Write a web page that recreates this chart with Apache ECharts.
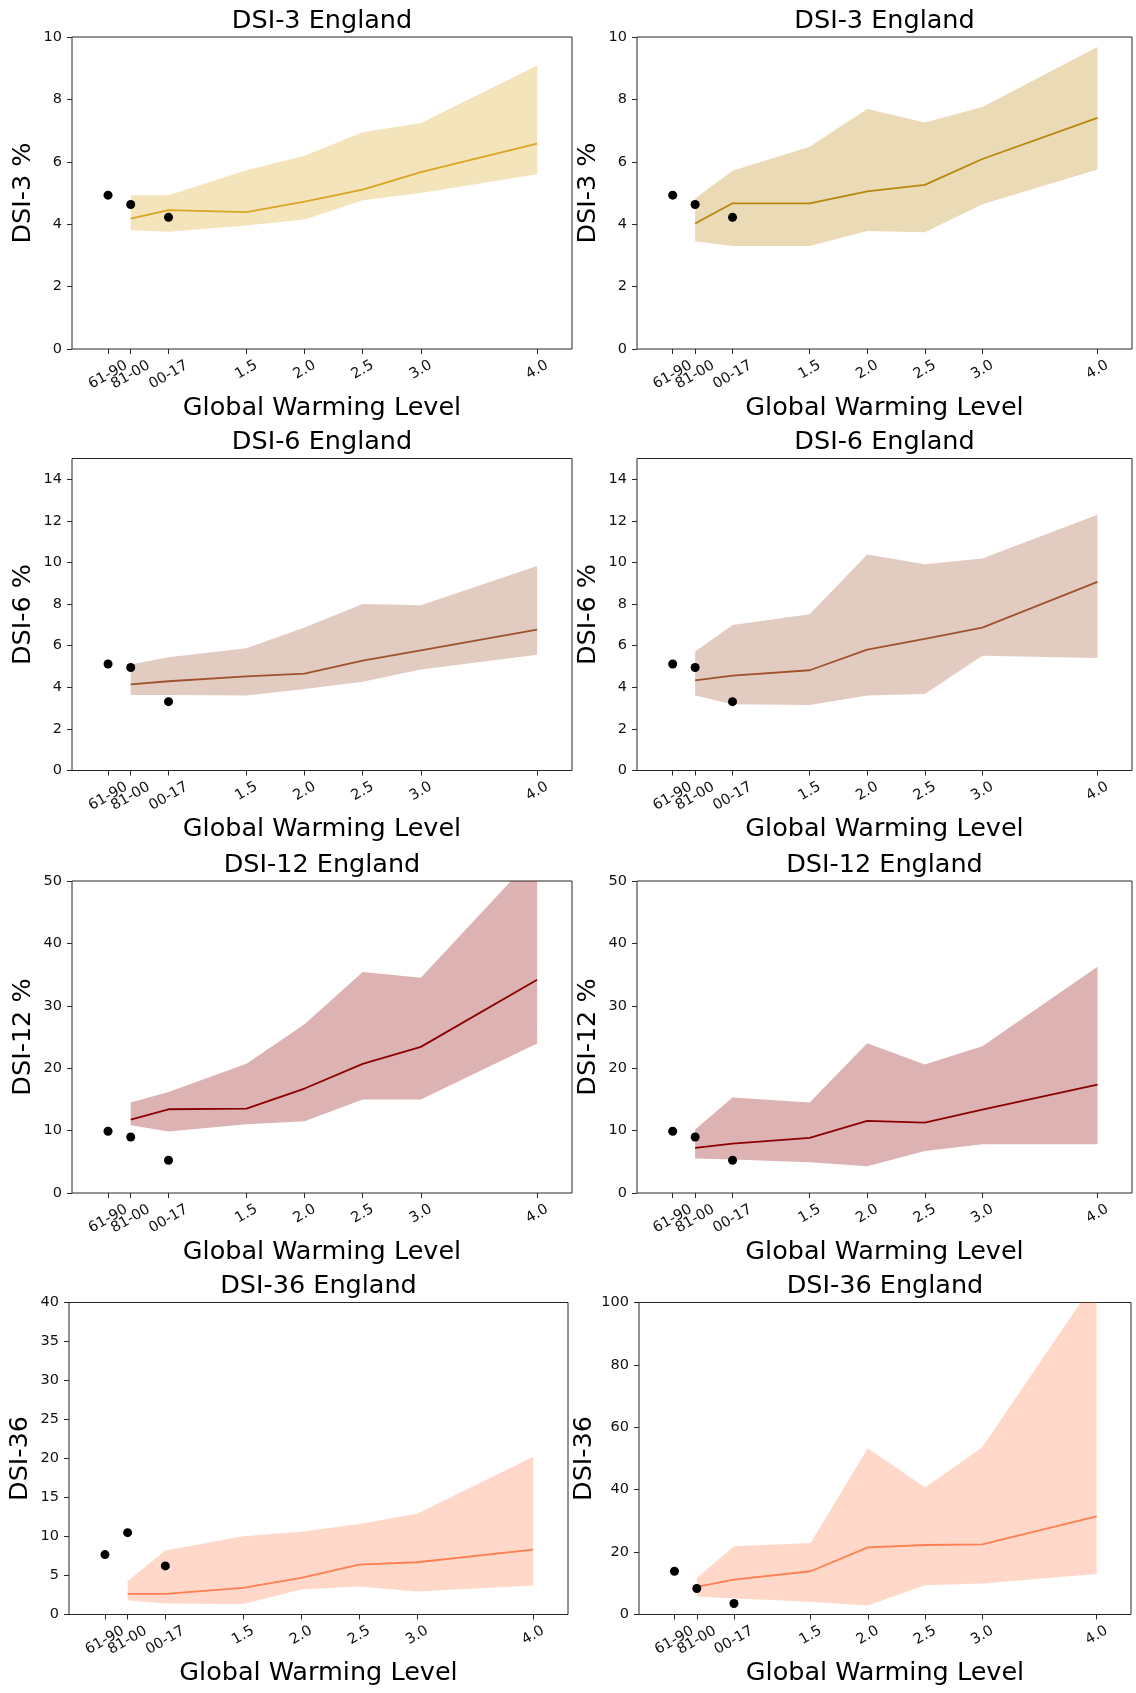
<!DOCTYPE html>
<html>
<head>
<meta charset="utf-8">
<script src="https://cdn.jsdelivr.net/npm/echarts@6/dist/echarts.min.js"></script>
<style>
  html, body { margin: 0; padding: 0; background: #ffffff; }
  #chart { width: 1136px; height: 1693px; }
</style>
</head>
<body>
<div id="chart"></div>
<script>
// x positions (global warming level) of the ticks; the three baseline periods sit at their own GWL
const gwlTicks = [0.31, 0.505, 0.83, 1.5, 2.0, 2.5, 3.0, 4.0];
const gwlTickLabels = ['61-90', '81-00', '00-17', '1.5', '2.0', '2.5', '3.0', '4.0'];
const obsX = [0.31, 0.505, 0.83];
const modelX = [0.505, 0.83, 1.5, 2.0, 2.5, 3.0, 4.0];

// y tick values
const ticksDsi3 = [0, 2, 4, 6, 8, 10];
const ticksDsi6 = [0, 2, 4, 6, 8, 10, 12, 14];
const ticksDsi12 = [0, 10, 20, 30, 40, 50];
const ticksDsi36a = [0, 5, 10, 15, 20, 25, 30, 35, 40];
const ticksDsi36b = [0, 20, 40, 60, 80, 100];

// DSI-3, left ensemble
const dsi3aObs = [4.93, 4.63, 4.22];
const dsi3aMedian = [4.18, 4.45, 4.39, 4.72, 5.11, 5.67, 6.58];
const dsi3aLow = [3.81, 3.76, 3.96, 4.15, 4.77, 5.00, 5.60];
const dsi3aHigh = [4.93, 4.93, 5.73, 6.19, 6.95, 7.24, 9.09];
// DSI-3, right ensemble
const dsi3bObs = [4.93, 4.63, 4.22];
const dsi3bMedian = [4.02, 4.67, 4.67, 5.05, 5.26, 6.09, 7.41];
const dsi3bLow = [3.45, 3.30, 3.30, 3.78, 3.74, 4.64, 5.75];
const dsi3bHigh = [4.82, 5.71, 6.48, 7.69, 7.26, 7.76, 9.68];
// DSI-6, left
const dsi6aObs = [5.12, 4.95, 3.31];
const dsi6aMedian = [4.14, 4.29, 4.53, 4.66, 5.28, 5.78, 6.77];
const dsi6aLow = [3.63, 3.63, 3.61, 3.92, 4.27, 4.85, 5.57];
const dsi6aHigh = [5.10, 5.45, 5.88, 6.87, 8.01, 7.95, 9.83];
// DSI-6, right
const dsi6bObs = [5.12, 4.95, 3.31];
const dsi6bMedian = [4.33, 4.56, 4.82, 5.81, 6.33, 6.87, 9.07];
const dsi6bLow = [3.60, 3.19, 3.15, 3.61, 3.68, 5.52, 5.41];
const dsi6bHigh = [5.72, 7.00, 7.51, 10.39, 9.91, 10.19, 12.30];
// DSI-12, left
const dsi12aObs = [9.89, 8.98, 5.24];
const dsi12aMedian = [11.76, 13.42, 13.53, 16.74, 20.70, 23.42, 34.17];
const dsi12aLow = [10.86, 9.84, 11.02, 11.50, 14.97, 14.97, 23.96];
const dsi12aHigh = [14.49, 16.20, 20.70, 27.06, 35.40, 34.49, 54.5];
// DSI-12, right
const dsi12bObs = [9.89, 8.98, 5.24];
const dsi12bMedian = [7.22, 7.91, 8.82, 11.55, 11.28, 13.37, 17.38];
const dsi12bLow = [5.51, 5.35, 4.92, 4.28, 6.74, 7.81, 7.81];
const dsi12bHigh = [10.16, 15.29, 14.49, 24.01, 20.59, 23.53, 36.26];
// DSI-36, left
const dsi36aObs = [7.68, 10.49, 6.23];
const dsi36aMedian = [2.64, 2.64, 3.41, 4.69, 6.40, 6.70, 8.32];
const dsi36aLow = [1.83, 1.41, 1.36, 3.20, 3.58, 2.94, 3.71];
const dsi36aHigh = [4.26, 8.19, 10.02, 10.62, 11.60, 12.92, 20.21];
// DSI-36, right
const dsi36bObs = [13.86, 8.32, 3.52];
const dsi36bMedian = [8.85, 11.19, 13.86, 21.54, 22.28, 22.49, 31.45];
const dsi36bLow = [5.76, 5.12, 4.05, 2.88, 9.38, 9.91, 13.0];
const dsi36bHigh = [11.73, 21.86, 22.92, 53.3, 40.72, 53.62, 107.6];

const FONT = 'DejaVu Sans';

const panels = [
  { title: 'DSI-3 England', yName: 'DSI-3 %', yMax: 10, yTicks: ticksDsi3,
    obs: dsi3aObs, median: dsi3aMedian, low: dsi3aLow, high: dsi3aHigh,
    line: '#DAA520', band: 'rgba(218,165,32,0.3)' },
  { title: 'DSI-3 England', yName: 'DSI-3 %', yMax: 10, yTicks: ticksDsi3,
    obs: dsi3bObs, median: dsi3bMedian, low: dsi3bLow, high: dsi3bHigh,
    line: '#B8860B', band: 'rgba(184,134,11,0.3)' },
  { title: 'DSI-6 England', yName: 'DSI-6 %', yMax: 15, yTicks: ticksDsi6,
    obs: dsi6aObs, median: dsi6aMedian, low: dsi6aLow, high: dsi6aHigh,
    line: '#A0522D', band: 'rgba(160,82,45,0.3)' },
  { title: 'DSI-6 England', yName: 'DSI-6 %', yMax: 15, yTicks: ticksDsi6,
    obs: dsi6bObs, median: dsi6bMedian, low: dsi6bLow, high: dsi6bHigh,
    line: '#A0522D', band: 'rgba(160,82,45,0.3)' },
  { title: 'DSI-12 England', yName: 'DSI-12 %', yMax: 50, yTicks: ticksDsi12,
    obs: dsi12aObs, median: dsi12aMedian, low: dsi12aLow, high: dsi12aHigh,
    line: '#8B0000', band: 'rgba(139,0,0,0.3)' },
  { title: 'DSI-12 England', yName: 'DSI-12 %', yMax: 50, yTicks: ticksDsi12,
    obs: dsi12bObs, median: dsi12bMedian, low: dsi12bLow, high: dsi12bHigh,
    line: '#8B0000', band: 'rgba(139,0,0,0.3)' },
  { title: 'DSI-36 England', yName: 'DSI-36', yMax: 40, yTicks: ticksDsi36a,
    obs: dsi36aObs, median: dsi36aMedian, low: dsi36aLow, high: dsi36aHigh,
    line: '#FF7F50', band: 'rgba(255,127,80,0.3)' },
  { title: 'DSI-36 England', yName: 'DSI-36', yMax: 100, yTicks: ticksDsi36b,
    obs: dsi36bObs, median: dsi36bMedian, low: dsi36bLow, high: dsi36bHigh,
    line: '#FF7F50', band: 'rgba(255,127,80,0.3)' }
];

// plot boxes: two columns, four rows
const rowTop = [37, 458.5, 881, 1302.5];
const boxH = 312;
function box(i) {
  const row = Math.floor(i / 2), col = i % 2;
  if (row < 3) return col === 0 ? { left: 72, width: 500, top: rowTop[row] } : { left: 637, width: 495, top: rowTop[row] };
  return col === 0 ? { left: 69, width: 499, top: rowTop[row] } : { left: 639, width: 492, top: rowTop[row] };
}

function gwlLabel(v) {
  let best = 0;
  gwlTicks.forEach((t, k) => { if (Math.abs(t - v) < Math.abs(gwlTicks[best] - v)) best = k; });
  return gwlTickLabels[best];
}

const grids = [], xAxes = [], yAxes = [], series = [], titles = [];
const AX_PER_GRID = 3;

panels.forEach((p, i) => {
  const b = box(i);
  grids.push({ left: b.left, top: b.top, width: b.width, height: boxH, show: true,
    borderColor: '#262626', borderWidth: 1, backgroundColor: 'transparent' });

  titles.push({ text: p.title, left: b.left + b.width / 2, top: b.top - 29, textAlign: 'center', padding: 0,
    textStyle: { fontFamily: FONT, fontSize: 25.5, fontWeight: 'normal', color: '#000' } });

  const labelStyle = { rotate: 30, align: 'center', verticalAlign: 'middle', fontFamily: FONT,
    fontSize: 14.5, color: '#111', formatter: gwlLabel, hideOverlap: false,
    showMinLabel: true, showMaxLabel: true };
  const hiddenAxis = { gridIndex: i, type: 'value', position: 'bottom', min: 0, max: 4.3,
    axisLine: { show: false, onZero: false }, splitLine: { show: false }, axisTick: { show: false } };

  // numeric warming levels, all ticks and the axis title
  xAxes.push({ gridIndex: i, type: 'value', position: 'bottom', min: 0, max: 4.3,
    axisLine: { show: false, onZero: false }, splitLine: { show: false },
    axisTick: { show: true, length: 5, customValues: gwlTicks, lineStyle: { color: '#262626', width: 1 } },
    axisLabel: Object.assign({}, labelStyle, { customValues: gwlTicks.slice(3), margin: 21 }),
    name: 'Global Warming Level', nameLocation: 'middle', nameGap: 46,
    nameTextStyle: { fontFamily: FONT, fontSize: 25.5, color: '#000' } });
  // baseline period labels (longer text, centred a little lower); split so neighbours never hide each other
  xAxes.push(Object.assign({}, hiddenAxis, {
    axisLabel: Object.assign({}, labelStyle, { customValues: [gwlTicks[0], gwlTicks[2]], margin: 26 }) }));
  xAxes.push(Object.assign({}, hiddenAxis, {
    axisLabel: Object.assign({}, labelStyle, { customValues: [gwlTicks[1]], margin: 26 }) }));

  yAxes.push({ gridIndex: i, type: 'value', min: 0, max: p.yMax,
    axisLine: { show: false }, splitLine: { show: false },
    axisTick: { show: true, length: 5, customValues: p.yTicks, lineStyle: { color: '#262626', width: 1 } },
    axisLabel: { customValues: p.yTicks, margin: 10, fontFamily: FONT, fontSize: 14.5, color: '#111' },
    name: p.yName, nameLocation: 'middle', nameGap: 35.5, nameRotate: 90,
    nameTextStyle: { fontFamily: FONT, fontSize: 25.5, color: '#000' } });

  const xi = AX_PER_GRID * i;
  // ensemble range: polygon along the upper bound and back along the lower bound, clipped to the plot box
  series.push({ type: 'custom', xAxisIndex: xi, yAxisIndex: i, silent: true, z: 1,
    data: modelX.map((x, k) => [x, p.low[k], p.high[k]]),
    encode: { x: 0, y: [1, 2] },
    renderItem: function (params, api) {
      if (params.dataIndex !== 0) return null;
      const upper = modelX.map((x, k) => api.coord([x, p.high[k]]));
      const lower = modelX.map((x, k) => api.coord([x, p.low[k]])).reverse();
      const cs = params.coordSys;
      return { type: 'polygon', shape: { points: upper.concat(lower) },
        style: { fill: p.band },
        clipPath: { type: 'rect', shape: { x: cs.x, y: cs.y, width: cs.width, height: cs.height } } };
    } });
  // ensemble median
  series.push({ type: 'line', xAxisIndex: xi, yAxisIndex: i,
    data: modelX.map((x, k) => [x, p.median[k]]), symbol: 'none',
    lineStyle: { color: p.line, width: 1.8 }, z: 3 });
  // observed values for the baseline periods
  series.push({ type: 'scatter', xAxisIndex: xi, yAxisIndex: i,
    data: obsX.map((x, k) => [x, p.obs[k]]), symbolSize: 9,
    itemStyle: { color: '#000', opacity: 1 }, z: 4 });
});

const chart = echarts.init(document.getElementById('chart'), null, { renderer: 'canvas' });
chart.setOption({
  animation: false,
  backgroundColor: '#ffffff',
  title: titles,
  grid: grids,
  xAxis: xAxes,
  yAxis: yAxes,
  series: series
});
</script>
</body>
</html>
